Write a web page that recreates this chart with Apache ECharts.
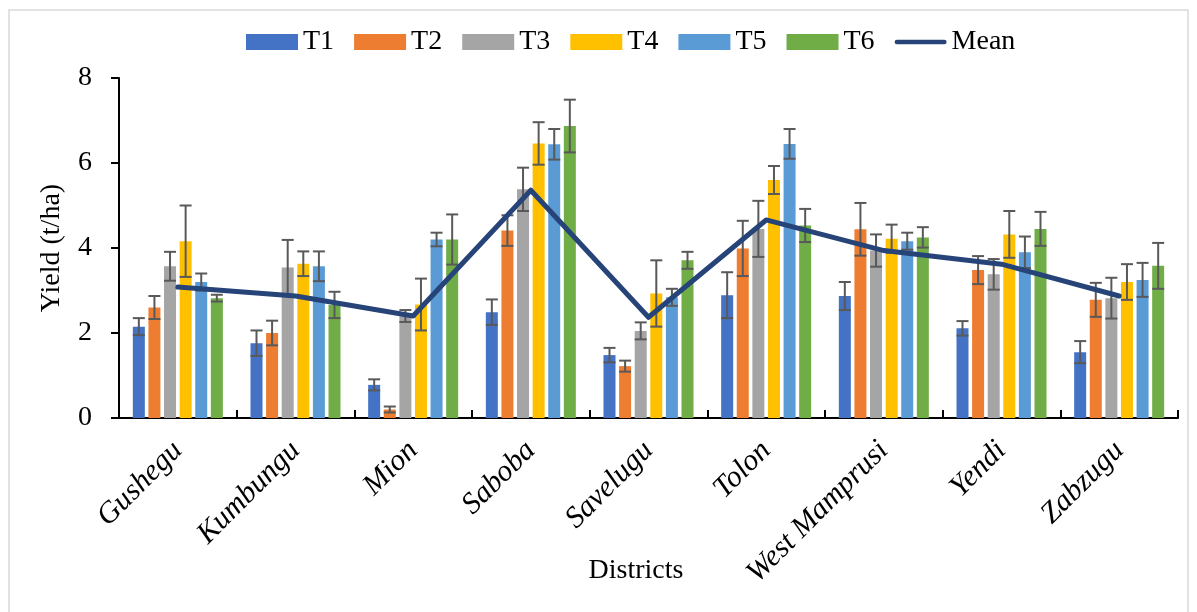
<!DOCTYPE html>
<html>
<head>
<meta charset="utf-8">
<script src="https://cdn.jsdelivr.net/npm/echarts@6/dist/echarts.min.js"></script>
<style>
  html, body { margin: 0; padding: 0; background: #ffffff; }
  #chart { width: 1197px; height: 612px; }
</style>
</head>
<body>
<div id="chart"></div>
<script>
// Districts on the category axis
const districts = ['Gushegu', 'Kumbungu', 'Mion', 'Saboba', 'Savelugu', 'Tolon', 'West Mamprusi', 'Yendi', 'Zabzugu'];
const treatments = ['T1', 'T2', 'T3', 'T4', 'T5', 'T6'];

// Yield (t/ha) per treatment, one value per district
const t1 = [2.15, 1.76, 0.78, 2.49, 1.48, 2.89, 2.87, 2.11, 1.55];
const t2 = [2.60, 2.00, 0.20, 4.41, 1.22, 3.99, 4.44, 3.48, 2.78];
const t3 = [3.57, 3.54, 2.40, 5.38, 2.05, 4.45, 3.94, 3.38, 2.82];
const t4 = [4.16, 3.63, 2.67, 6.46, 2.93, 5.60, 4.22, 4.32, 3.20];
const t5 = [3.20, 3.57, 4.20, 6.44, 2.84, 6.45, 4.16, 3.90, 3.25];
const t6 = [2.82, 2.66, 4.20, 6.87, 3.71, 4.53, 4.25, 4.45, 3.58];

// Error bar half-lengths (t/ha)
const e1 = [0.20, 0.30, 0.13, 0.30, 0.17, 0.54, 0.33, 0.17, 0.26];
const e2 = [0.27, 0.29, 0.07, 0.36, 0.13, 0.65, 0.62, 0.33, 0.40];
const e3 = [0.34, 0.65, 0.14, 0.51, 0.20, 0.66, 0.38, 0.36, 0.48];
const e4 = [0.84, 0.29, 0.61, 0.50, 0.78, 0.33, 0.33, 0.55, 0.42];
const e5 = [0.20, 0.35, 0.16, 0.36, 0.20, 0.35, 0.20, 0.37, 0.40];
const e6 = [0.08, 0.31, 0.59, 0.62, 0.20, 0.39, 0.24, 0.40, 0.54];

// Mean yield per district
const meanYield = [3.08, 2.87, 2.40, 5.36, 2.37, 4.66, 3.94, 3.62, 2.87];

// Y axis ticks
const yMin = 0, yMax = 8, yStep = 2;

const values = [t1, t2, t3, t4, t5, t6];
const errors = [e1, e2, e3, e4, e5, e6];
const colors = ['#4472C4', '#ED7D31', '#A5A5A5', '#FFC000', '#5B9BD5', '#70AD47'];
const FONT = 'Liberation Serif';
const BAR_W = 12;
const BAR_GAP = 0.3; // fraction of bar width

const chart = echarts.init(document.getElementById('chart'), null, { renderer: 'canvas' });

const barSeries = treatments.map((name, i) => ({
  name: name,
  type: 'bar',
  data: values[i],
  barWidth: BAR_W,
  barGap: (BAR_GAP * 100) + '%',
  itemStyle: { color: colors[i] },
  z: 2
}));

// Error whiskers centred on each bar of the group
const errSeries = treatments.map((name, i) => ({
  name: name + ' error',
  type: 'custom',
  data: districts.map((d, k) => [k, values[i][k], errors[i][k]]),
  encode: { x: 0, y: 1 },
  z: 3,
  silent: true,
  renderItem: function (params, api) {
    const k = api.value(0), v = api.value(1), e = api.value(2);
    const centre = api.coord([k, v]);
    const hi = api.coord([k, v + e]);
    const lo = api.coord([k, v - e]);
    const x = centre[0] + (i - 2.5) * BAR_W * (1 + BAR_GAP);
    const half = BAR_W / 2;
    const style = { stroke: '#595959', lineWidth: 2 };
    return {
      type: 'group',
      children: [
        { type: 'line', shape: { x1: x, y1: hi[1], x2: x, y2: lo[1] }, style: style },
        { type: 'line', shape: { x1: x - half, y1: hi[1], x2: x + half, y2: hi[1] }, style: style },
        { type: 'line', shape: { x1: x - half, y1: lo[1], x2: x + half, y2: lo[1] }, style: style }
      ]
    };
  }
}));

const option = {
  animation: false,
  backgroundColor: '#ffffff',
  textStyle: { fontFamily: FONT },
  legend: {
    data: treatments.map(t => ({ name: t, icon: 'rect' })).concat([{
      name: 'Mean',
      icon: 'path://M2.5,0 L53.5,0 A2.5,2.5 0 0 1 53.5,5 L2.5,5 A2.5,2.5 0 0 1 2.5,0 Z'
    }]),
    left: 246,
    top: 28,
    padding: 0,
    itemWidth: 52,
    itemHeight: 16,
    itemGap: 20,
    symbolKeepAspect: true,
    textStyle: { fontFamily: FONT, fontSize: 28, color: '#000000', padding: [0, 0, 0, 0] }
  },
  grid: { left: 119, right: 19, top: 78, bottom: 194, containLabel: false },
  xAxis: {
    type: 'category',
    data: districts,
    axisLine: { show: true, lineStyle: { color: '#000000', width: 2 } },
    axisTick: { show: true, inside: true, length: 8, lineStyle: { color: '#000000', width: 2 } },
    axisLabel: {
      interval: 0,
      rotate: 45,
      margin: 28,
      fontFamily: FONT,
      fontStyle: 'italic',
      fontSize: 30,
      color: '#000000'
    },
    splitLine: { show: false }
  },
  yAxis: {
    type: 'value',
    min: yMin,
    max: yMax,
    interval: yStep,
    axisLine: { show: true, lineStyle: { color: '#000000', width: 2 } },
    axisTick: { show: true, inside: false, length: 8, lineStyle: { color: '#000000', width: 2 } },
    axisLabel: { margin: 27, fontFamily: FONT, fontSize: 28, color: '#000000' },
    splitLine: { show: false }
  },
  graphic: [
    {
      type: 'rect',
      shape: { x: 9, y: 10, width: 1179, height: 612 },
      style: { fill: 'none', stroke: '#d9d9d9', lineWidth: 1.5 },
      silent: true,
      z: -10
    },
    {
      type: 'text',
      x: 52, y: 248,
      rotation: Math.PI / 2,
      style: {
        text: 'Yield (t/ha)',
        font: '28px "Liberation Serif"',
        fill: '#000000',
        textAlign: 'center',
        textVerticalAlign: 'middle'
      }
    },
    {
      type: 'text',
      x: 636, y: 571,
      style: {
        text: 'Districts',
        font: '28px "Liberation Serif"',
        fill: '#000000',
        textAlign: 'center',
        textVerticalAlign: 'middle'
      }
    }
  ],
  series: barSeries.concat(errSeries).concat([{
    name: 'Mean',
    type: 'line',
    data: meanYield,
    symbol: 'none',
    lineStyle: { color: '#264478', width: 5, cap: 'round', join: 'round' },
    itemStyle: { color: '#264478' },
    z: 5
  }])
};

chart.setOption(option);
</script>
</body>
</html>
